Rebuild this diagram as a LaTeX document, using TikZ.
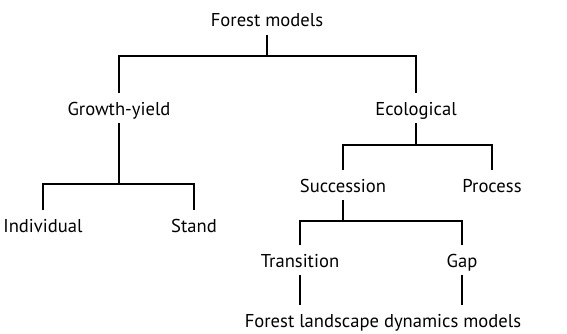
\documentclass[tikz,border=0pt]{standalone}
\usepackage{fontspec}
\setmainfont{PT Sans}
\usepackage{tikz}
\usetikzlibrary{positioning}

\begin{document}
\begin{tikzpicture}[
  x=1pt, y=1pt,
  font=\fontsize{18.6}{21}\selectfont,  % tuned to the reference text width
  lbl/.style={anchor=base, inner xsep=0pt, inner ysep=5pt, text height=16.5pt, text depth=3pt},
  link/.style={line width=1.2pt}
]
  \useasboundingbox (0,0) rectangle (567,333);

  \node[lbl] (forest) at (267,306) {Forest models};
  \node[lbl] (growth) at (119,218) {Growth-yield};
  \node[lbl] (ecol) at (416,218) {Ecological};
  \node[lbl] (indiv) at (43,101) {Individual};
  \node[lbl] (stand) at (194,101) {Stand};
  \node[lbl] (succ) at (343,141) {Succession};
  \node[lbl] (process) at (492,141) {Process};
  \node[lbl] (trans) at (300,66) {Transition};
  \node[lbl] (gap) at (462,66) {Gap};
  \node[lbl] (fldm) at (383,6) {Forest landscape dynamics models};

  % junctions of the tree
  \coordinate (jtop) at (267,277);
  \coordinate (jgrowth) at (119,149);
  \coordinate (jecol) at (416,188);
  \coordinate (jsucc) at (343,112);

  \draw[link] (forest.south) -- (jtop);
  \draw[link] (growth.north) |- (jtop) -| (ecol.north);
  \draw[link] (growth.south) -- (jgrowth);
  \draw[link] (indiv.north) |- (jgrowth) -| (stand.north);
  \draw[link] (ecol.south) -- (jecol);
  \draw[link] (succ.north) |- (jecol) -| (process.north);
  \draw[link] (succ.south) -- (jsucc);
  \draw[link] (trans.north) |- (jsucc) -| (gap.north);
  \draw[link] (trans.south) -- (trans.south |- fldm.north);
  \draw[link] (gap.south) -- (gap.south |- fldm.north);
\end{tikzpicture}
\end{document}
